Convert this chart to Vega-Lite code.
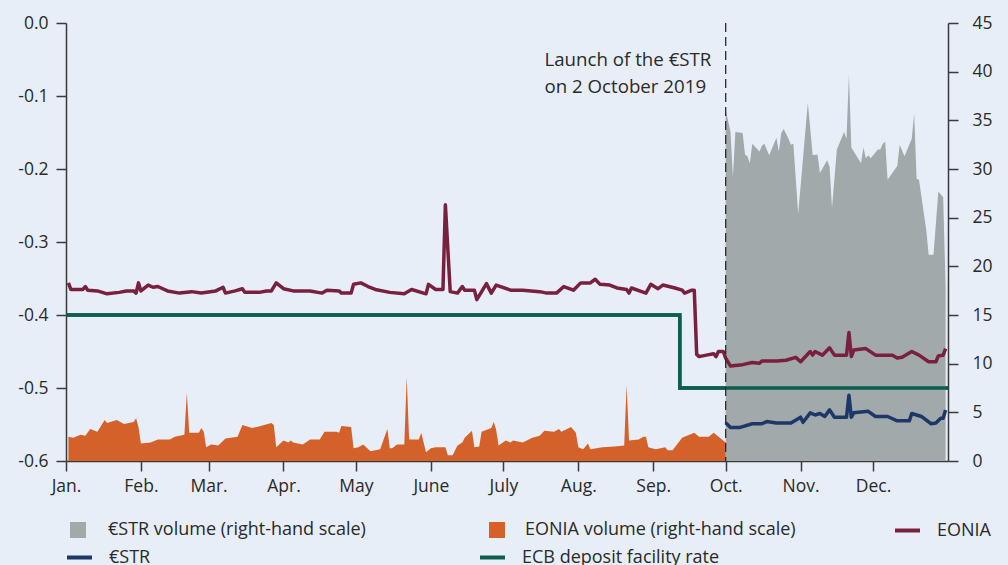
{
  "$schema": "https://vega.github.io/schema/vega-lite/v6.json",
  "width": 882,
  "height": 438,
  "autosize": {"type": "none"},
  "padding": {"left": 66, "top": 23, "right": 60, "bottom": 104},
  "background": "#e7eef8",
  "config": {
    "view": {"stroke": null},
    "font": "Open Sans",
    "axis": {
      "domainColor": "#3a3a3a", "domainWidth": 1.5, "tickColor": "#3a3a3a", "tickWidth": 1.5,
      "tickSize": 10, "labelFontSize": 17.5, "labelColor": "#2a2a2a", "labelFont": "Open Sans", "grid": false, "title": null
    },
    "legend": {"labelFontSize": 18, "labelColor": "#2a2a2a", "labelFont": "Open Sans", "padding": 0, "title": null, "orient": "none", "labelLimit": 0}
  },
  "datasets": {
    "estr_volume": [
      {"date": "2019-10-01", "value": 36.1}, {"date": "2019-10-03", "value": 33.8}, {"date": "2019-10-04", "value": 29.2},
      {"date": "2019-10-05", "value": 33.8}, {"date": "2019-10-08", "value": 33.7}, {"date": "2019-10-09", "value": 31.5},
      {"date": "2019-10-10", "value": 31.3}, {"date": "2019-10-11", "value": 30.6}, {"date": "2019-10-12", "value": 32.6},
      {"date": "2019-10-15", "value": 31.8}, {"date": "2019-10-16", "value": 32.4}, {"date": "2019-10-17", "value": 32.6},
      {"date": "2019-10-19", "value": 31.4}, {"date": "2019-10-22", "value": 33.2}, {"date": "2019-10-23", "value": 31.8},
      {"date": "2019-10-24", "value": 33.7}, {"date": "2019-10-25", "value": 34.1}, {"date": "2019-10-27", "value": 33.1},
      {"date": "2019-10-28", "value": 32.5}, {"date": "2019-10-29", "value": 32.6}, {"date": "2019-10-31", "value": 25.4},
      {"date": "2019-11-04", "value": 36.8}, {"date": "2019-11-06", "value": 31.4}, {"date": "2019-11-08", "value": 31.5},
      {"date": "2019-11-09", "value": 29.6}, {"date": "2019-11-12", "value": 30.9}, {"date": "2019-11-13", "value": 30.2},
      {"date": "2019-11-14", "value": 26.0}, {"date": "2019-11-16", "value": 32.0}, {"date": "2019-11-19", "value": 33.8},
      {"date": "2019-11-20", "value": 33.1}, {"date": "2019-11-21", "value": 39.7}, {"date": "2019-11-22", "value": 32.2},
      {"date": "2019-11-26", "value": 30.6}, {"date": "2019-11-27", "value": 32.2}, {"date": "2019-11-28", "value": 31.1},
      {"date": "2019-11-29", "value": 31.4}, {"date": "2019-11-30", "value": 31.1}, {"date": "2019-12-03", "value": 32.0},
      {"date": "2019-12-04", "value": 32.0}, {"date": "2019-12-05", "value": 32.6}, {"date": "2019-12-06", "value": 32.8},
      {"date": "2019-12-07", "value": 28.9}, {"date": "2019-12-11", "value": 30.3}, {"date": "2019-12-12", "value": 32.5},
      {"date": "2019-12-14", "value": 31.3}, {"date": "2019-12-17", "value": 33.1}, {"date": "2019-12-18", "value": 35.7},
      {"date": "2019-12-19", "value": 29.0}, {"date": "2019-12-20", "value": 28.9}, {"date": "2019-12-23", "value": 23.7},
      {"date": "2019-12-24", "value": 21.2}, {"date": "2019-12-26", "value": 21.2}, {"date": "2019-12-28", "value": 27.7},
      {"date": "2019-12-30", "value": 27.1}, {"date": "2019-12-31", "value": 18.0}
    ],
    "eonia_volume": [
      {"date": "2019-01-02", "value": 2.5}, {"date": "2019-01-04", "value": 2.4}, {"date": "2019-01-07", "value": 2.7},
      {"date": "2019-01-09", "value": 2.6}, {"date": "2019-01-11", "value": 3.3}, {"date": "2019-01-14", "value": 3.0},
      {"date": "2019-01-17", "value": 4.2}, {"date": "2019-01-18", "value": 3.9}, {"date": "2019-01-22", "value": 4.2},
      {"date": "2019-01-25", "value": 3.8}, {"date": "2019-01-29", "value": 4.0}, {"date": "2019-01-30", "value": 4.4},
      {"date": "2019-01-31", "value": 3.5}, {"date": "2019-02-01", "value": 1.8}, {"date": "2019-02-05", "value": 1.9},
      {"date": "2019-02-07", "value": 2.1}, {"date": "2019-02-08", "value": 2.2}, {"date": "2019-02-13", "value": 2.2},
      {"date": "2019-02-15", "value": 2.5}, {"date": "2019-02-19", "value": 2.7}, {"date": "2019-02-20", "value": 7.0},
      {"date": "2019-02-21", "value": 2.9}, {"date": "2019-02-25", "value": 2.9}, {"date": "2019-02-26", "value": 3.4},
      {"date": "2019-02-27", "value": 3.0}, {"date": "2019-02-28", "value": 1.4}, {"date": "2019-03-02", "value": 1.7},
      {"date": "2019-03-05", "value": 1.6}, {"date": "2019-03-08", "value": 2.3}, {"date": "2019-03-13", "value": 2.5},
      {"date": "2019-03-15", "value": 3.7}, {"date": "2019-03-19", "value": 3.4}, {"date": "2019-03-21", "value": 3.5},
      {"date": "2019-03-27", "value": 3.9}, {"date": "2019-03-28", "value": 3.7}, {"date": "2019-03-29", "value": 1.4},
      {"date": "2019-04-01", "value": 2.1}, {"date": "2019-04-03", "value": 1.9}, {"date": "2019-04-04", "value": 2.1},
      {"date": "2019-04-05", "value": 1.9}, {"date": "2019-04-09", "value": 1.7}, {"date": "2019-04-12", "value": 2.2},
      {"date": "2019-04-16", "value": 2.2}, {"date": "2019-04-18", "value": 3.0}, {"date": "2019-04-23", "value": 3.0},
      {"date": "2019-04-24", "value": 2.9}, {"date": "2019-04-25", "value": 3.6}, {"date": "2019-04-29", "value": 3.5},
      {"date": "2019-04-30", "value": 1.3}, {"date": "2019-05-02", "value": 1.4}, {"date": "2019-05-04", "value": 1.7},
      {"date": "2019-05-07", "value": 1.0}, {"date": "2019-05-11", "value": 1.2}, {"date": "2019-05-14", "value": 3.3},
      {"date": "2019-05-15", "value": 1.3}, {"date": "2019-05-16", "value": 1.3}, {"date": "2019-05-18", "value": 1.7},
      {"date": "2019-05-21", "value": 1.7}, {"date": "2019-05-22", "value": 8.6}, {"date": "2019-05-23", "value": 2.2},
      {"date": "2019-05-27", "value": 2.2}, {"date": "2019-05-28", "value": 2.9}, {"date": "2019-05-30", "value": 0.9},
      {"date": "2019-06-01", "value": 1.3}, {"date": "2019-06-03", "value": 1.4}, {"date": "2019-06-07", "value": 1.4},
      {"date": "2019-06-08", "value": 0.6}, {"date": "2019-06-10", "value": 0.6}, {"date": "2019-06-12", "value": 1.6},
      {"date": "2019-06-14", "value": 1.9}, {"date": "2019-06-15", "value": 2.4}, {"date": "2019-06-18", "value": 3.1},
      {"date": "2019-06-19", "value": 1.4}, {"date": "2019-06-21", "value": 1.5}, {"date": "2019-06-22", "value": 3.0},
      {"date": "2019-06-26", "value": 3.4}, {"date": "2019-06-27", "value": 4.0}, {"date": "2019-06-28", "value": 3.2},
      {"date": "2019-06-29", "value": 1.6}, {"date": "2019-07-02", "value": 2.1}, {"date": "2019-07-04", "value": 1.9},
      {"date": "2019-07-05", "value": 2.1}, {"date": "2019-07-09", "value": 1.9}, {"date": "2019-07-13", "value": 2.4},
      {"date": "2019-07-16", "value": 2.6}, {"date": "2019-07-18", "value": 3.1}, {"date": "2019-07-22", "value": 3.0},
      {"date": "2019-07-24", "value": 3.3}, {"date": "2019-07-25", "value": 3.0}, {"date": "2019-07-29", "value": 3.5},
      {"date": "2019-07-31", "value": 2.9}, {"date": "2019-08-01", "value": 1.4}, {"date": "2019-08-03", "value": 1.2},
      {"date": "2019-08-05", "value": 1.8}, {"date": "2019-08-06", "value": 1.2}, {"date": "2019-08-11", "value": 1.4},
      {"date": "2019-08-16", "value": 1.5}, {"date": "2019-08-20", "value": 1.6}, {"date": "2019-08-21", "value": 7.8},
      {"date": "2019-08-22", "value": 2.1}, {"date": "2019-08-26", "value": 2.2}, {"date": "2019-08-28", "value": 2.5},
      {"date": "2019-08-29", "value": 2.5}, {"date": "2019-08-30", "value": 1.4}, {"date": "2019-09-02", "value": 1.2},
      {"date": "2019-09-06", "value": 1.4}, {"date": "2019-09-07", "value": 1.1}, {"date": "2019-09-09", "value": 1.1},
      {"date": "2019-09-13", "value": 2.4}, {"date": "2019-09-18", "value": 2.9}, {"date": "2019-09-20", "value": 2.5},
      {"date": "2019-09-24", "value": 2.5}, {"date": "2019-09-26", "value": 2.9}, {"date": "2019-10-01", "value": 1.9}
    ],
    "deposit_rate": [
      {"date": "2019-01-01", "value": -0.40}, {"date": "2019-09-12", "value": -0.50}, {"date": "2020-01-01", "value": -0.50}
    ],
    "eonia": [
      {"date": "2019-01-02", "value": -0.356}, {"date": "2019-01-03", "value": -0.365}, {"date": "2019-01-08", "value": -0.365},
      {"date": "2019-01-09", "value": -0.361}, {"date": "2019-01-10", "value": -0.366}, {"date": "2019-01-14", "value": -0.367},
      {"date": "2019-01-18", "value": -0.371}, {"date": "2019-01-23", "value": -0.369}, {"date": "2019-01-26", "value": -0.367},
      {"date": "2019-01-29", "value": -0.367}, {"date": "2019-01-30", "value": -0.370}, {"date": "2019-01-31", "value": -0.356},
      {"date": "2019-02-01", "value": -0.367}, {"date": "2019-02-04", "value": -0.359}, {"date": "2019-02-06", "value": -0.362},
      {"date": "2019-02-08", "value": -0.361}, {"date": "2019-02-12", "value": -0.367}, {"date": "2019-02-17", "value": -0.370},
      {"date": "2019-02-22", "value": -0.368}, {"date": "2019-02-26", "value": -0.370}, {"date": "2019-03-04", "value": -0.367},
      {"date": "2019-03-07", "value": -0.362}, {"date": "2019-03-08", "value": -0.370}, {"date": "2019-03-12", "value": -0.367},
      {"date": "2019-03-15", "value": -0.364}, {"date": "2019-03-16", "value": -0.369}, {"date": "2019-03-22", "value": -0.369},
      {"date": "2019-03-25", "value": -0.367}, {"date": "2019-03-27", "value": -0.367}, {"date": "2019-03-29", "value": -0.356},
      {"date": "2019-04-01", "value": -0.364}, {"date": "2019-04-05", "value": -0.367}, {"date": "2019-04-12", "value": -0.367},
      {"date": "2019-04-17", "value": -0.370}, {"date": "2019-04-19", "value": -0.366}, {"date": "2019-04-24", "value": -0.367},
      {"date": "2019-04-25", "value": -0.370}, {"date": "2019-04-29", "value": -0.370}, {"date": "2019-04-30", "value": -0.358},
      {"date": "2019-05-03", "value": -0.356}, {"date": "2019-05-06", "value": -0.361}, {"date": "2019-05-09", "value": -0.365},
      {"date": "2019-05-15", "value": -0.369}, {"date": "2019-05-21", "value": -0.371}, {"date": "2019-05-24", "value": -0.365},
      {"date": "2019-05-30", "value": -0.371}, {"date": "2019-05-31", "value": -0.358}, {"date": "2019-06-03", "value": -0.365},
      {"date": "2019-06-06", "value": -0.365}, {"date": "2019-06-07", "value": -0.249}, {"date": "2019-06-09", "value": -0.368},
      {"date": "2019-06-12", "value": -0.370}, {"date": "2019-06-14", "value": -0.361}, {"date": "2019-06-15", "value": -0.366},
      {"date": "2019-06-19", "value": -0.366}, {"date": "2019-06-20", "value": -0.379}, {"date": "2019-06-24", "value": -0.357},
      {"date": "2019-06-26", "value": -0.370}, {"date": "2019-06-28", "value": -0.359}, {"date": "2019-07-04", "value": -0.366},
      {"date": "2019-07-09", "value": -0.366}, {"date": "2019-07-16", "value": -0.368}, {"date": "2019-07-19", "value": -0.370},
      {"date": "2019-07-23", "value": -0.370}, {"date": "2019-07-26", "value": -0.361}, {"date": "2019-07-30", "value": -0.366},
      {"date": "2019-08-02", "value": -0.356}, {"date": "2019-08-06", "value": -0.356}, {"date": "2019-08-08", "value": -0.351},
      {"date": "2019-08-10", "value": -0.358}, {"date": "2019-08-14", "value": -0.359}, {"date": "2019-08-17", "value": -0.363},
      {"date": "2019-08-21", "value": -0.365}, {"date": "2019-08-22", "value": -0.370}, {"date": "2019-08-23", "value": -0.363},
      {"date": "2019-08-29", "value": -0.370}, {"date": "2019-08-31", "value": -0.358}, {"date": "2019-09-03", "value": -0.364},
      {"date": "2019-09-05", "value": -0.359}, {"date": "2019-09-10", "value": -0.363}, {"date": "2019-09-13", "value": -0.366},
      {"date": "2019-09-14", "value": -0.370}, {"date": "2019-09-17", "value": -0.366}, {"date": "2019-09-18", "value": -0.366},
      {"date": "2019-09-19", "value": -0.454}, {"date": "2019-09-20", "value": -0.457}, {"date": "2019-09-23", "value": -0.455},
      {"date": "2019-09-26", "value": -0.453}, {"date": "2019-09-27", "value": -0.457}, {"date": "2019-09-28", "value": -0.450},
      {"date": "2019-09-30", "value": -0.450}, {"date": "2019-10-01", "value": -0.459}, {"date": "2019-10-03", "value": -0.470},
      {"date": "2019-10-08", "value": -0.468}, {"date": "2019-10-12", "value": -0.465}, {"date": "2019-10-15", "value": -0.466},
      {"date": "2019-10-16", "value": -0.463}, {"date": "2019-10-22", "value": -0.463}, {"date": "2019-10-26", "value": -0.462},
      {"date": "2019-10-30", "value": -0.458}, {"date": "2019-11-01", "value": -0.464}, {"date": "2019-11-05", "value": -0.450},
      {"date": "2019-11-06", "value": -0.455}, {"date": "2019-11-07", "value": -0.450}, {"date": "2019-11-10", "value": -0.455},
      {"date": "2019-11-13", "value": -0.445}, {"date": "2019-11-15", "value": -0.455}, {"date": "2019-11-20", "value": -0.455},
      {"date": "2019-11-21", "value": -0.424}, {"date": "2019-11-22", "value": -0.457}, {"date": "2019-11-23", "value": -0.448},
      {"date": "2019-11-28", "value": -0.446}, {"date": "2019-12-02", "value": -0.455}, {"date": "2019-12-09", "value": -0.455},
      {"date": "2019-12-11", "value": -0.459}, {"date": "2019-12-13", "value": -0.458}, {"date": "2019-12-17", "value": -0.450},
      {"date": "2019-12-20", "value": -0.455}, {"date": "2019-12-24", "value": -0.464}, {"date": "2019-12-27", "value": -0.464},
      {"date": "2019-12-28", "value": -0.456}, {"date": "2019-12-30", "value": -0.455}, {"date": "2019-12-31", "value": -0.446}
    ],
    "estr": [
      {"date": "2019-10-01", "value": -0.5475}, {"date": "2019-10-03", "value": -0.554}, {"date": "2019-10-07", "value": -0.554},
      {"date": "2019-10-12", "value": -0.549}, {"date": "2019-10-16", "value": -0.549}, {"date": "2019-10-18", "value": -0.546},
      {"date": "2019-10-22", "value": -0.548}, {"date": "2019-10-28", "value": -0.548}, {"date": "2019-11-01", "value": -0.540},
      {"date": "2019-11-02", "value": -0.547}, {"date": "2019-11-05", "value": -0.534}, {"date": "2019-11-07", "value": -0.537},
      {"date": "2019-11-09", "value": -0.535}, {"date": "2019-11-11", "value": -0.539}, {"date": "2019-11-13", "value": -0.530},
      {"date": "2019-11-15", "value": -0.540}, {"date": "2019-11-20", "value": -0.540}, {"date": "2019-11-21", "value": -0.510},
      {"date": "2019-11-22", "value": -0.540}, {"date": "2019-11-23", "value": -0.534}, {"date": "2019-11-29", "value": -0.532},
      {"date": "2019-12-02", "value": -0.539}, {"date": "2019-12-07", "value": -0.539}, {"date": "2019-12-11", "value": -0.545},
      {"date": "2019-12-16", "value": -0.545}, {"date": "2019-12-17", "value": -0.535}, {"date": "2019-12-21", "value": -0.539},
      {"date": "2019-12-25", "value": -0.549}, {"date": "2019-12-27", "value": -0.548}, {"date": "2019-12-29", "value": -0.5415},
      {"date": "2019-12-30", "value": -0.5415}, {"date": "2019-12-31", "value": -0.530}
    ],
    "launch": [{"date": "2019-10-01"}],
    "note": [
      {"date": "2019-07-18", "value": -0.051, "label": "Launch of the €STR"},
      {"date": "2019-07-18", "value": -0.088, "label": "on 2 October 2019"}
    ]
  },
  "encoding": {
    "x": {
      "field": "date", "type": "temporal",
      "scale": {"type": "utc", "domain": [{"year": 2019, "month": 1, "date": 1, "utc": true}, {"year": 2020, "month": 1, "date": 1, "utc": true}]},
      "axis": {
        "orient": "bottom", "labelPadding": 6,
        "values": [
          {"year": 2019, "month": 1, "date": 1, "utc": true}, {"year": 2019, "month": 2, "date": 1, "utc": true},
          {"year": 2019, "month": 3, "date": 1, "utc": true}, {"year": 2019, "month": 4, "date": 1, "utc": true},
          {"year": 2019, "month": 5, "date": 1, "utc": true}, {"year": 2019, "month": 6, "date": 1, "utc": true},
          {"year": 2019, "month": 7, "date": 1, "utc": true}, {"year": 2019, "month": 8, "date": 1, "utc": true},
          {"year": 2019, "month": 9, "date": 1, "utc": true}, {"year": 2019, "month": 10, "date": 1, "utc": true},
          {"year": 2019, "month": 11, "date": 1, "utc": true}, {"year": 2019, "month": 12, "date": 1, "utc": true}
        ],
        "labelExpr": "['Jan.','Feb.','Mar.','Apr.','May','June','July','Aug.','Sep.','Oct.','Nov.','Dec.'][utcmonth(datum.value)]",
        "labelFlush": false, "labelOverlap": false
      }
    }
  },
  "layer": [
    {
      "data": {"name": "deposit_rate"},
      "mark": {"type": "line", "interpolate": "step-after", "strokeWidth": 3.5},
      "encoding": {
        "y": {"field": "value", "type": "quantitative", "scale": {"domain": [-0.6, 0], "nice": false, "zero": false},
          "axis": {"orient": "left", "values": [-0.6, -0.5, -0.4, -0.3, -0.2, -0.1, 0], "labelPadding": 8,
            "labelExpr": "replace(format(datum.value, '.1f'), '\u2212', '-')"}},
        "color": {"datum": "ECB deposit facility rate", "type": "nominal", "scale": {"range": ["#0d5e4f"]},
          "legend": {"legendX": 412, "legendY": 520, "symbolType": "stroke", "symbolSize": 625, "symbolStrokeWidth": 4, "labelOffset": 15}}
      }
    },
    {
      "data": {"name": "estr_volume"},
      "mark": {"type": "area", "interpolate": "linear"},
      "encoding": {
        "y": {"field": "value", "type": "quantitative", "stack": null, "scale": {"domain": [0, 45], "nice": false, "zero": false},
          "axis": {"orient": "right", "values": [0, 5, 10, 15, 20, 25, 30, 35, 40, 45],
            "labelExpr": "(datum.value < 10 ? '\u2007' : '') + datum.value", "labelPadding": 14}},
        "color": {"datum": "€STR volume (right-hand scale)", "type": "nominal", "scale": {"range": ["#a2a9ab"]},
          "legend": {"legendX": 3, "legendY": 498, "symbolType": "square", "symbolSize": 256, "symbolStrokeWidth": 0, "labelOffset": 21}}
      }
    },
    {
      "data": {"name": "eonia_volume"},
      "mark": {"type": "area", "interpolate": "linear"},
      "encoding": {
        "y": {"field": "value", "type": "quantitative", "stack": null, "scale": {"domain": [0, 45], "nice": false, "zero": false}, "axis": null},
        "color": {"datum": "EONIA volume (right-hand scale)", "type": "nominal", "scale": {"range": ["#d5612a"]},
          "legend": {"legendX": 422, "legendY": 498, "symbolType": "square", "symbolSize": 256, "symbolStrokeWidth": 0, "labelOffset": 19}}
      }
    },
    {
      "data": {"name": "deposit_rate"},
      "mark": {"type": "line", "interpolate": "step-after", "strokeWidth": 3.5, "color": "#0d5e4f"},
      "encoding": {
        "y": {"field": "value", "type": "quantitative", "scale": {"domain": [-0.6, 0], "nice": false, "zero": false}, "axis": null}
      }
    },
    {
      "data": {"name": "eonia"},
      "mark": {"type": "line", "strokeWidth": 3.5, "strokeJoin": "round"},
      "encoding": {
        "y": {"field": "value", "type": "quantitative", "scale": {"domain": [-0.6, 0], "nice": false, "zero": false}, "axis": null},
        "color": {"datum": "EONIA", "type": "nominal", "scale": {"range": ["#78203e"]},
          "legend": {"legendX": 827, "legendY": 493, "symbolType": "stroke", "symbolSize": 625, "symbolStrokeWidth": 4, "labelOffset": 15}}
      }
    },
    {
      "data": {"name": "estr"},
      "mark": {"type": "line", "strokeWidth": 3.5, "strokeJoin": "round"},
      "encoding": {
        "y": {"field": "value", "type": "quantitative", "scale": {"domain": [-0.6, 0], "nice": false, "zero": false}, "axis": null},
        "color": {"datum": "€STR", "type": "nominal", "scale": {"range": ["#1d3868"]},
          "legend": {"legendX": -1, "legendY": 520, "symbolType": "stroke", "symbolSize": 625, "symbolStrokeWidth": 4, "labelOffset": 15}}
      }
    },
    {
      "data": {"name": "launch"},
      "mark": {"type": "rule", "color": "#2a2a2a", "strokeWidth": 1.3, "strokeDash": [9, 5]},
      "encoding": {}
    },
    {
      "data": {"name": "note"},
      "mark": {"type": "text", "align": "left", "baseline": "middle", "fontSize": 18.7, "color": "#2a2a2a", "font": "Open Sans"},
      "encoding": {
        "y": {"field": "value", "type": "quantitative", "scale": {"domain": [-0.6, 0], "nice": false, "zero": false}, "axis": null},
        "text": {"field": "label"}
      }
    }
  ],
  "resolve": {"scale": {"y": "independent", "color": "independent"}}
}
